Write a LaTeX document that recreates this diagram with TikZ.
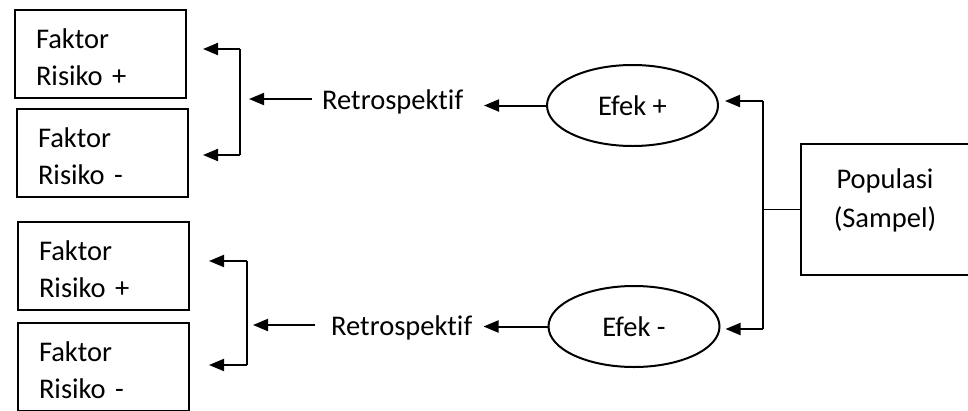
\documentclass[tikz,border=0pt]{standalone}
\usepackage{fontspec}
\setmainfont{Carlito}[Ligatures=NoCommon]
\usetikzlibrary{arrows.meta,shapes.geometric}
\begin{document}
\begin{tikzpicture}[x=1pt,y=-1pt,
    >={Triangle[length=15pt,width=12pt]},
    every node/.style={font=\fontsize{28.5}{37}\selectfont},
    faktor/.style={draw,line width=2pt,outer sep=0pt,anchor=north west,minimum width=171pt,minimum height=88pt,text width=129pt,inner xsep=21pt,inner ysep=0pt,align=left,text height=26pt,text depth=38pt},
    efek/.style={draw,ellipse,line width=2pt,outer sep=0pt,minimum width=171pt,minimum height=81pt,inner sep=0pt},
    retro/.style={anchor=west,inner ysep=0pt,text height=21pt,text depth=0pt},
    arrow/.style={->,line width=2pt},
    bracket/.style={line width=1.3pt}]
    \useasboundingbox (0,0) rectangle (968,410);
    \clip (0,0) rectangle (968,410);
    \node[faktor] (fA1) at (15,10) {Faktor\\Risiko +};
    \node[faktor] (fA2) at (17,109) {Faktor\\Risiko -};
    \node[faktor] (fB1) at (18,222) {Faktor\\Risiko +};
    \node[faktor] (fB2) at (18,323) {Faktor\\Risiko -};
    \node[retro,inner xsep=10pt] (rA) at (312,99) {Retrospektif};
    \node[retro,inner xsep=16pt] (rB) at (315,325) {Retrospektif};
    \node[efek] (eA) at (632.5,105.5) {Efek +};
    \node[efek] (eB) at (634,326.5) {Efek -};
    \node[draw,line width=2pt,outer sep=0pt,anchor=north west,minimum width=168pt,minimum height=131pt,text width=120pt,inner xsep=24pt,inner ysep=0pt,align=center,text height=17pt,text depth=60pt,font=\fontsize{28.5}{39}\selectfont] (pop) at (801,144) {Populasi\\(Sampel)};
    \coordinate (kA1) at (240,49);
    \coordinate (kA2) at (240,155);
    \coordinate (kB1) at (247,261);
    \coordinate (kB2) at (247,365);
    \coordinate (kC1) at (763,101);
    \coordinate (kC2) at (763,329);
    \draw[bracket] (kA1) -- (kA2);
    \draw[arrow,shorten >=17pt] (kA1) -- (fA1.east |- kA1);
    \draw[arrow,shorten >=15pt] (kA2) -- (fA2.east |- kA2);
    \draw[arrow,shorten >=9pt] (rA.west) -- (rA.west -| kA1);
    \draw[bracket] (kB1) -- (kB2);
    \draw[arrow,shorten >=20pt] (kB1) -- (fB1.east |- kB1);
    \draw[arrow,shorten >=20pt] (kB2) -- (fB2.east |- kB2);
    \draw[arrow,shorten >=6pt] (rB.west) -- (rB.west -| kB1);
    \draw[arrow] (eA.west) -- ([xshift=-63pt]eA.west);
    \draw[arrow] (eB.west) -- ([xshift=-65pt]eB.west);
    \draw[bracket] (kC1) -- (kC2);
    \draw[arrow,shorten >=7pt] (kC1) -- (eA.east |- kC1);
    \draw[arrow,shorten >=6pt] (kC2) -- (eB.east |- kC2);
    \draw[line width=1pt] (pop.west) -- (pop.west -| kC1);
\end{tikzpicture}
\end{document}
